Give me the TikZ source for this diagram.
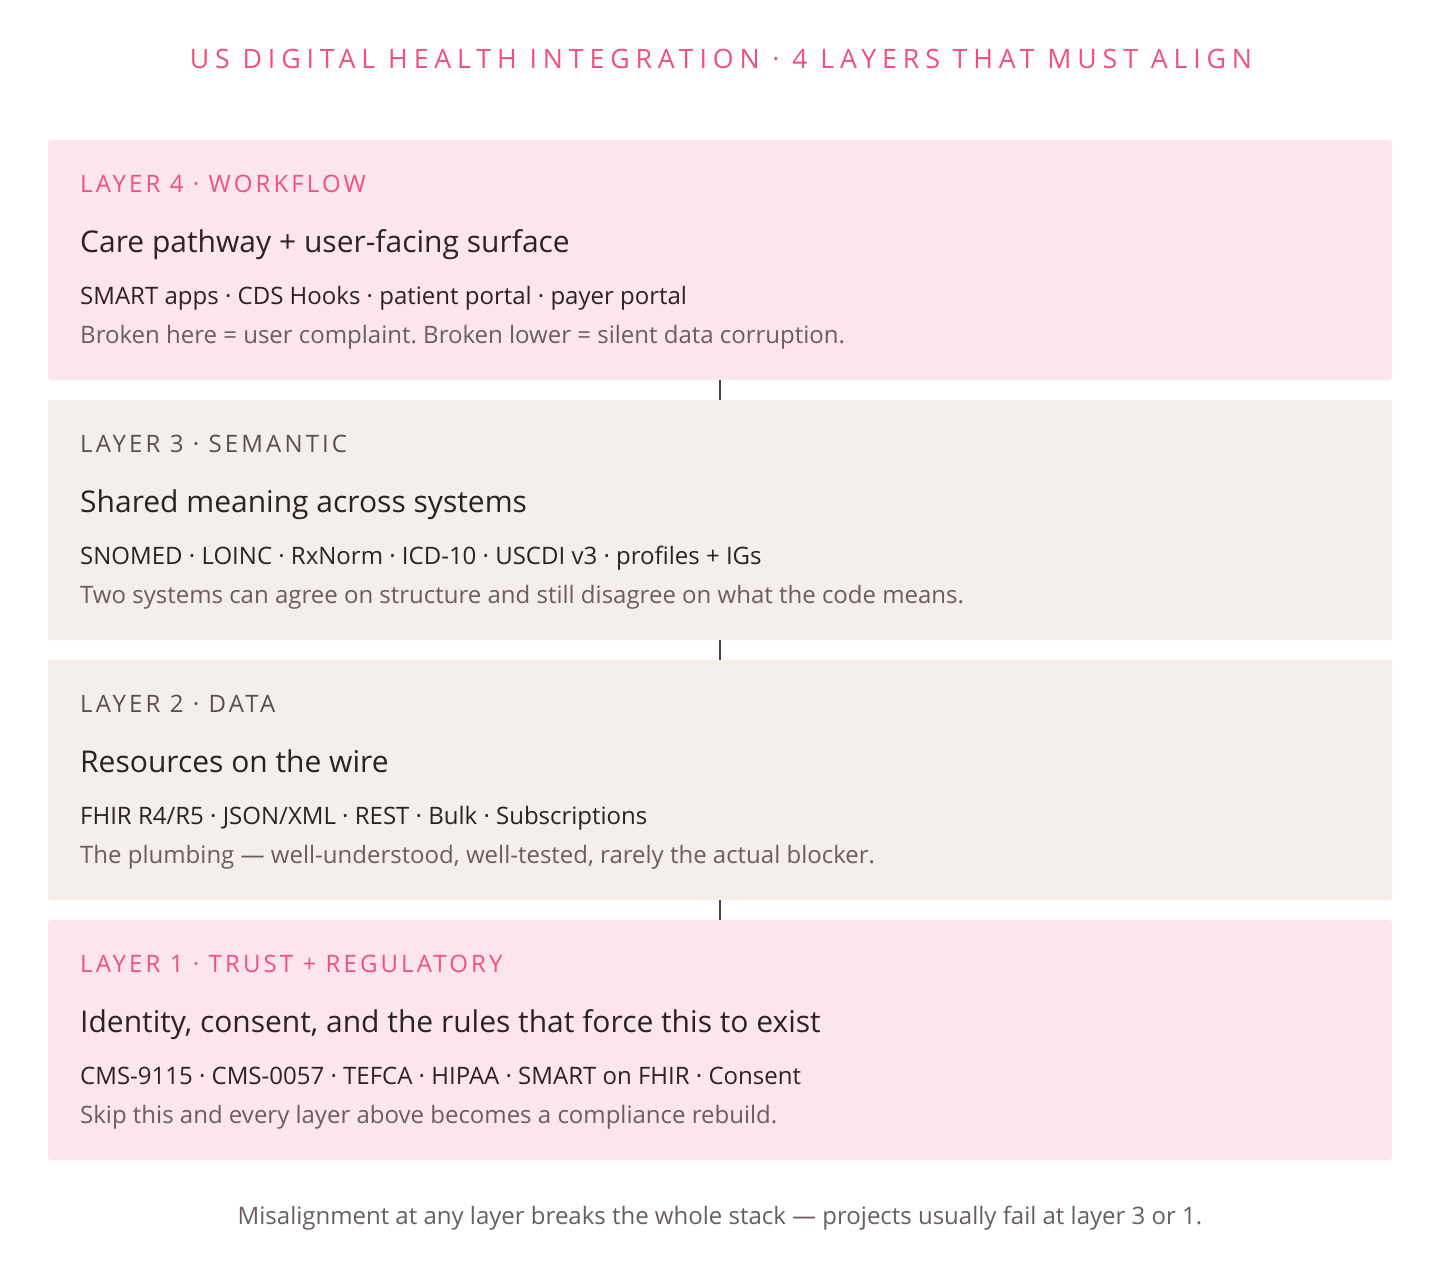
\documentclass[tikz,border=0pt]{standalone}
\usepackage{fontspec}
\setmainfont{Open Sans}
\newfontfamily\titlefont[LetterSpace=22]{Open Sans}
\newfontfamily\labelfont[LetterSpace=13]{Open Sans}
\definecolor{pinkfill}{HTML}{FDE5EE}
\definecolor{beigefill}{HTML}{F4EFEA}
\definecolor{accent}{HTML}{F2507C}
\definecolor{ink}{HTML}{2B2222}
\definecolor{graylabel}{HTML}{5A4F4F}
\definecolor{note}{HTML}{6B5D5D}
\definecolor{link}{HTML}{4A3E3E}
\tikzset{
  layerbox/.style={rounded corners=3pt, draw=none},
  lbl/.style={anchor=base west, inner sep=0pt, font=\labelfont\fontsize{24}{28}\selectfont},
  heading/.style={anchor=base west, inner sep=0pt, text=ink, font=\fontsize{30}{36}\selectfont},
  tech/.style={anchor=base west, inner sep=0pt, text=ink, font=\fontsize{24}{28}\selectfont},
  notetxt/.style={anchor=base west, inner sep=0pt, text=note, font=\fontsize{24}{28}\selectfont},
  linkline/.style={draw=link, line width=1.6pt},
}
\frenchspacing
\begin{document}
\begin{tikzpicture}[x=1pt,y=-1pt]
\useasboundingbox[fill=white] (0,0) rectangle (1440,1280);
\node[anchor=base, inner sep=0pt, text=accent, font=\titlefont\fontsize{26.7}{30}\selectfont] (title) at (721,68) {US DIGITAL HEALTH INTEGRATION · 4 LAYERS THAT MUST ALIGN};
% boxes
\fill[layerbox, pinkfill] (48,140) rectangle (1392,380);
\node[inner sep=0pt, minimum width=1344pt, minimum height=240pt] (L4) at (720,260) {};
\fill[layerbox, beigefill] (48,400) rectangle (1392,640);
\node[inner sep=0pt, minimum width=1344pt, minimum height=240pt] (L3) at (720,520) {};
\fill[layerbox, beigefill] (48,660) rectangle (1392,900);
\node[inner sep=0pt, minimum width=1344pt, minimum height=240pt] (L2) at (720,780) {};
\fill[layerbox, pinkfill] (48,920) rectangle (1392,1160);
\node[inner sep=0pt, minimum width=1344pt, minimum height=240pt] (L1) at (720,1040) {};
% connectors
\draw[linkline] (L4.south) -- (L3.north);
\draw[linkline] (L3.south) -- (L2.north);
\draw[linkline] (L2.south) -- (L1.north);
% layer 4
\node[lbl, text=accent] (l4a) at (80,192) {LAYER 4 · WORKFLOW};
\node[heading] (l4b) at (80,252) {Care pathway + user-facing surface};
\node[tech] (l4c) at (80,304) {SMART apps · CDS Hooks · patient portal · payer portal};
\node[notetxt] (l4d) at (80,343) {Broken here = user complaint. Broken lower = silent data corruption.};
% layer 3
\node[lbl, text=graylabel] (l3a) at (80,452) {LAYER 3 · SEMANTIC};
\node[heading] (l3b) at (80,512) {Shared meaning across systems};
\node[tech] (l3c) at (80,564) {SNOMED · LOINC · RxNorm · ICD-10 · USCDI v3 · profiles + IGs};
\node[notetxt] (l3d) at (80,603) {Two systems can agree on structure and still disagree on what the code means.};
% layer 2
\node[lbl, text=graylabel] (l2a) at (80,712) {LAYER 2 · DATA};
\node[heading] (l2b) at (80,772) {Resources on the wire};
\node[tech] (l2c) at (80,824) {FHIR R4/R5 · JSON/XML · REST · Bulk · Subscriptions};
\node[notetxt] (l2d) at (80,863) {The plumbing — well-understood, well-tested, rarely the actual blocker.};
% layer 1
\node[lbl, text=accent] (l1a) at (80,972) {LAYER 1 · TRUST + REGULATORY};
\node[heading] (l1b) at (80,1032) {Identity, consent, and the rules that force this to exist};
\node[tech] (l1c) at (80,1084) {CMS-9115 · CMS-0057 · TEFCA · HIPAA · SMART on FHIR · Consent};
\node[notetxt] (l1d) at (80,1123) {Skip this and every layer above becomes a compliance rebuild.};
% footer
\node[anchor=base, inner sep=0pt, text=note, font=\fontsize{24}{28}\selectfont] (foot) at (720,1224) {Misalignment at any layer breaks the whole stack — projects usually fail at layer 3 or 1.};
\end{tikzpicture}
\end{document}
